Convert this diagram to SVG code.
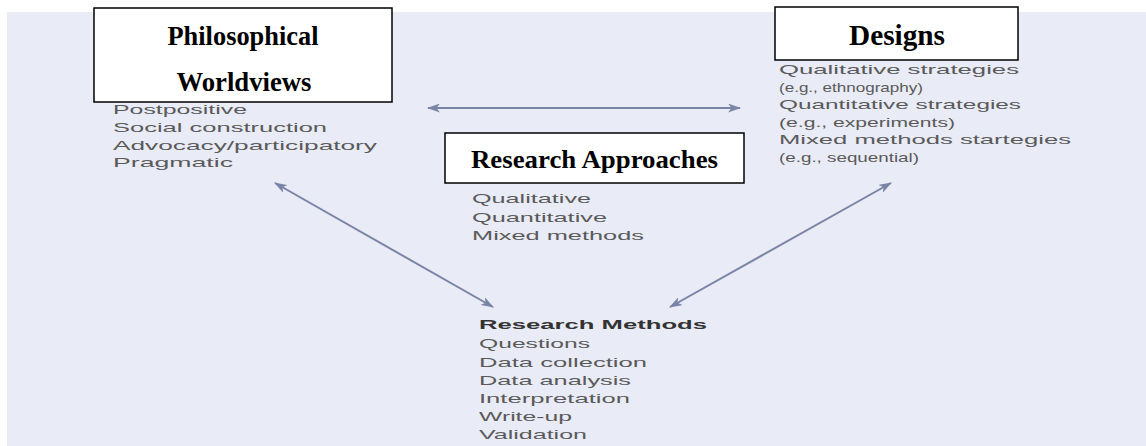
<svg xmlns="http://www.w3.org/2000/svg" width="1146" height="446" viewBox="0 0 1146 446">
  <defs>
    <style>
      .bg { fill: #e9ebf7; }
      .box { fill: #ffffff; stroke: #000000; stroke-width: 1.5; }
      .title { font-family: "Liberation Serif", "Times New Roman", serif; font-weight: bold; fill: #000000; text-anchor: middle; }
      .item { font-family: "Liberation Sans", Arial, sans-serif; font-size: 12.8px; fill: #5a5a5a; }
      .head { font-family: "Liberation Sans", Arial, sans-serif; font-size: 12.8px; font-weight: bold; fill: #333333; }
      .conn { stroke: #7a85a6; stroke-width: 2; fill: none; marker-start: url(#ah); marker-end: url(#ah); }
    </style>
    <marker id="ah" viewBox="0 0 13 9" refX="12" refY="4.5" markerWidth="13" markerHeight="9" markerUnits="userSpaceOnUse" orient="auto-start-reverse">
      <path d="M0,0 L13,4.5 L0,9 L3.5,4.5 z" fill="#7a85a6"/>
    </marker>
  </defs>

  <rect class="bg" x="7" y="12" width="1139" height="434"/>

  <g id="connectors">
    <line class="conn" x1="428" y1="108" x2="740" y2="108"/>
    <line class="conn" x1="275" y1="183" x2="493" y2="307"/>
    <line class="conn" x1="670" y1="307" x2="891" y2="183"/>
  </g>

  <g id="philosophical-worldviews">
    <rect class="box" x="94" y="8" width="298" height="94"/>
    <text class="title" x="243" y="45" font-size="27" textLength="151" lengthAdjust="spacingAndGlyphs">Philosophical</text>
    <text class="title" x="244" y="91" font-size="27" textLength="135" lengthAdjust="spacingAndGlyphs">Worldviews</text>
    <text class="item" x="113" y="114" textLength="134" lengthAdjust="spacingAndGlyphs">Postpositive</text>
    <text class="item" x="113" y="132" textLength="214" lengthAdjust="spacingAndGlyphs">Social construction</text>
    <text class="item" x="113" y="150" textLength="264" lengthAdjust="spacingAndGlyphs">Advocacy/participatory</text>
    <text class="item" x="113" y="167" textLength="120" lengthAdjust="spacingAndGlyphs">Pragmatic</text>
  </g>

  <g id="designs">
    <rect class="box" x="775" y="7" width="243" height="53"/>
    <text class="title" x="897" y="45" font-size="29" textLength="96" lengthAdjust="spacingAndGlyphs">Designs</text>
    <text class="item" x="779" y="74" textLength="240" lengthAdjust="spacingAndGlyphs">Qualitative strategies</text>
    <text class="item" x="779" y="92" textLength="144" lengthAdjust="spacingAndGlyphs">(e.g., ethnography)</text>
    <text class="item" x="779" y="109" textLength="242" lengthAdjust="spacingAndGlyphs">Quantitative strategies</text>
    <text class="item" x="779" y="127" textLength="176" lengthAdjust="spacingAndGlyphs">(e.g., experiments)</text>
    <text class="item" x="779" y="144" textLength="292" lengthAdjust="spacingAndGlyphs">Mixed methods startegies</text>
    <text class="item" x="779" y="162" textLength="140" lengthAdjust="spacingAndGlyphs">(e.g., sequential)</text>
  </g>

  <g id="research-approaches">
    <rect class="box" x="445" y="133" width="299" height="50"/>
    <text class="title" x="594.5" y="168" font-size="25" textLength="247" lengthAdjust="spacingAndGlyphs">Research Approaches</text>
    <text class="item" x="472" y="203" textLength="119" lengthAdjust="spacingAndGlyphs">Qualitative</text>
    <text class="item" x="472" y="222" textLength="135" lengthAdjust="spacingAndGlyphs">Quantitative</text>
    <text class="item" x="472" y="240" textLength="172" lengthAdjust="spacingAndGlyphs">Mixed methods</text>
  </g>

  <g id="research-methods">
    <text class="head" x="479" y="329" textLength="228" lengthAdjust="spacingAndGlyphs">Research Methods</text>
    <text class="item" x="479" y="348" textLength="111" lengthAdjust="spacingAndGlyphs">Questions</text>
    <text class="item" x="479" y="367" textLength="168" lengthAdjust="spacingAndGlyphs">Data collection</text>
    <text class="item" x="479" y="385" textLength="152" lengthAdjust="spacingAndGlyphs">Data analysis</text>
    <text class="item" x="479" y="403" textLength="151" lengthAdjust="spacingAndGlyphs">Interpretation</text>
    <text class="item" x="479" y="421" textLength="93" lengthAdjust="spacingAndGlyphs">Write-up</text>
    <text class="item" x="479" y="439" textLength="108" lengthAdjust="spacingAndGlyphs">Validation</text>
  </g>
</svg>
